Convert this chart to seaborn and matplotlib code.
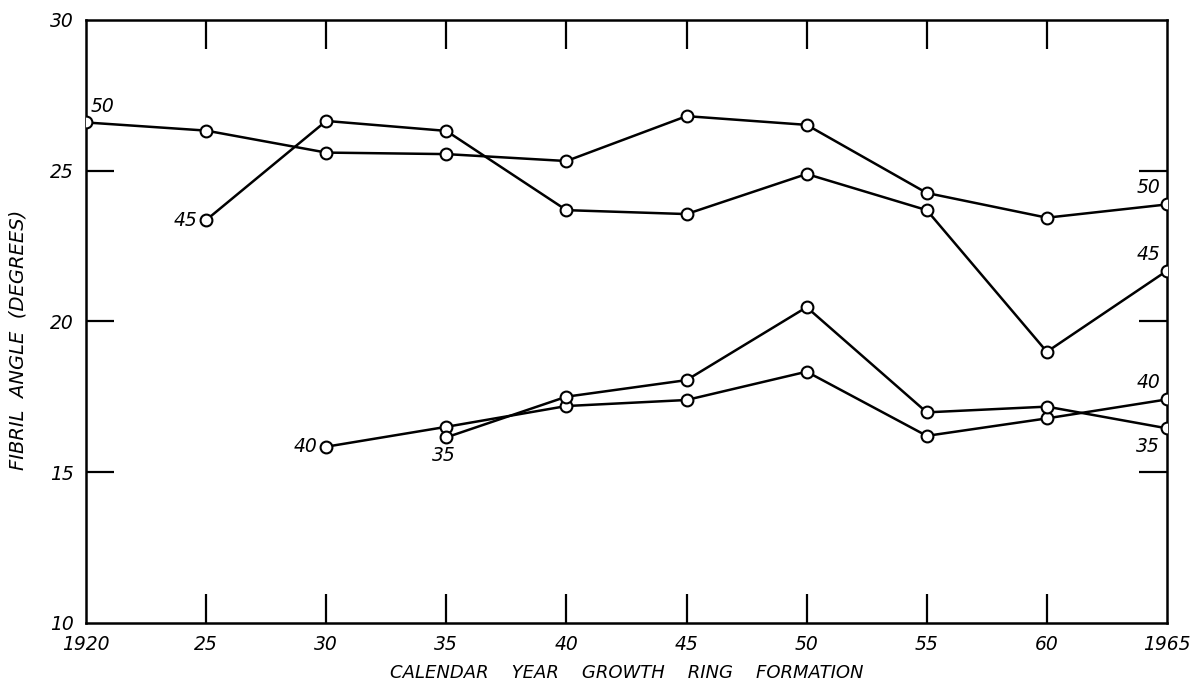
import matplotlib
matplotlib.use("Agg")
import matplotlib.pyplot as plt
import seaborn as sns
import pandas as pd

years = [1920, 1925, 1930, 1935, 1940, 1945, 1950, 1955, 1960, 1965]

years_50 = [1920, 1925, 1930, 1935, 1940, 1945, 1950, 1955, 1960, 1965]
angle_50 = [26.6, 26.33, 25.6, 25.55, 25.32, 26.81, 26.52, 24.26, 23.44, 23.88]

years_45 = [1925, 1930, 1935, 1940, 1945, 1950, 1955, 1960, 1965]
angle_45 = [23.36, 26.65, 26.32, 23.69, 23.56, 24.89, 23.69, 18.99, 21.68]

years_40 = [1930, 1935, 1940, 1945, 1950, 1955, 1960, 1965]
angle_40 = [15.84, 16.5, 17.19, 17.39, 18.33, 16.2, 16.78, 17.41]

years_35 = [1935, 1940, 1945, 1950, 1955, 1960, 1965]
angle_35 = [16.15, 17.5, 18.05, 20.47, 16.98, 17.17, 16.45]

series_names = ["50", "45", "40", "35"]
x_tick_labels = ["1920", "25", "30", "35", "40", "45", "50", "55", "60", "1965"]
y_ticks = [10, 15, 20, 25, 30]

sns.set_theme(style="white")
plt.rcParams["font.family"] = ["DejaVu Sans"]
plt.rcParams["font.style"] = "italic"

fig = plt.figure(figsize=(11.96, 6.84), dpi=100)
ax = fig.add_axes([86 / 1196, 1 - 622.7 / 684, (1167 - 86) / 1196, (622.7 - 20) / 684])

data = {
    "50": (years_50, angle_50),
    "45": (years_45, angle_45),
    "40": (years_40, angle_40),
    "35": (years_35, angle_35),
}

for name in series_names:
    xs, ys = data[name]
    df = pd.DataFrame({"year": xs, "angle": ys})
    sns.lineplot(data=df, x="year", y="angle", ax=ax, color="black", lw=1.8,
                 marker="o", markersize=8.5, markerfacecolor="white",
                 markeredgecolor="black", markeredgewidth=1.5, zorder=3)

lab_kw = dict(fontsize=13.5, fontstyle="italic", color="black")
# start labels
ax.annotate("50", (years_50[0], angle_50[0]), xytext=(3, 5), textcoords="offset points", ha="left", va="bottom", **lab_kw)
ax.annotate("45", (years_45[0], angle_45[0]), xytext=(-6, 0), textcoords="offset points", ha="right", va="center", **lab_kw)
ax.annotate("40", (years_40[0], angle_40[0]), xytext=(-6, 0), textcoords="offset points", ha="right", va="center", **lab_kw)
ax.annotate("35", (years_35[0], angle_35[0]), xytext=(-2, -6), textcoords="offset points", ha="center", va="top", **lab_kw)
# end labels
ax.annotate("50", (years_50[-1], angle_50[-1]), xytext=(-5, 5), textcoords="offset points", ha="right", va="bottom", **lab_kw)
ax.annotate("45", (years_45[-1], angle_45[-1]), xytext=(-5, 5), textcoords="offset points", ha="right", va="bottom", **lab_kw)
ax.annotate("40", (years_40[-1], angle_40[-1]), xytext=(-5, 5), textcoords="offset points", ha="right", va="bottom", **lab_kw)
ax.annotate("35", (years_35[-1], angle_35[-1]), xytext=(-5, -6), textcoords="offset points", ha="right", va="top", **lab_kw)

ax.set_xlim(1920, 1965)
ax.set_ylim(10, 30)
ax.set_xticks(years)
ax.set_xticklabels(x_tick_labels)
ax.set_yticks(y_ticks)
ax.set_yticklabels([str(v) for v in y_ticks])

for sp in ax.spines.values():
    sp.set_visible(True)
    sp.set_color("black")
    sp.set_linewidth(1.8)

ax.tick_params(axis="x", which="major", direction="in", length=21, width=1.6,
               top=True, bottom=True, labelsize=13.5, pad=9, colors="black")
ax.tick_params(axis="y", which="major", direction="in", length=20, width=1.6,
               left=True, right=True, labelsize=13.5, pad=9, colors="black")
for t in ax.get_xticklabels() + ax.get_yticklabels():
    t.set_fontstyle("italic")

# hide tick marks that sit on the frame corners
for tick in (ax.xaxis.get_major_ticks()[0], ax.xaxis.get_major_ticks()[-1],
             ax.yaxis.get_major_ticks()[0], ax.yaxis.get_major_ticks()[-1]):
    tick.tick1line.set_visible(False)
    tick.tick2line.set_visible(False)

ax.set_xlabel("CALENDAR    YEAR    GROWTH    RING    FORMATION", fontsize=13, fontstyle="italic", color="black")
ax.xaxis.label.set_va("center")
ax.xaxis.set_label_coords(0.5, (622.7 - 673) / 602.7)
ax.set_ylabel("FIBRIL  ANGLE  (DEGREES)", fontsize=14, fontstyle="italic", color="black")
ax.yaxis.label.set_va("center")
ax.yaxis.set_label_coords((18 - 86) / 1081, (622.7 - 340) / 602.7)
ax.grid(False)

fig.savefig("out.png", dpi=100, facecolor="white")
